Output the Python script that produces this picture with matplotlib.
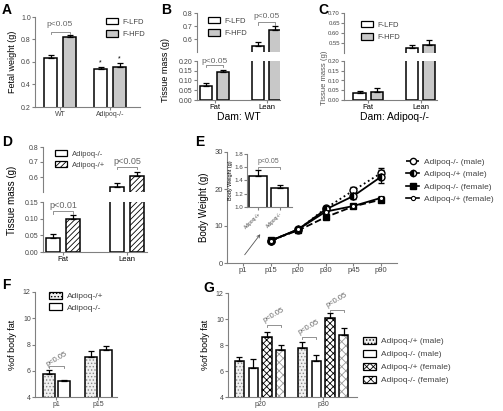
import matplotlib.pyplot as plt
import numpy as np
from matplotlib.patches import Patch, FancyArrowPatch
from matplotlib.lines import Line2D

plt.rcParams['font.family'] = ['Liberation Sans', 'DejaVu Sans']
plt.rcParams['hatch.linewidth'] = 0.6

# ---- data ----
# A: fetal weight (g)
a_groups = ['WT', 'Adipoq-/-']
a_lfd = [0.632, 0.538]
a_lfd_err = [0.028, 0.02]
a_hfd = [0.818, 0.559]
a_hfd_err = [0.025, 0.03]

# B: tissue mass, dam WT
tissue_groups = ['Fat', 'Lean']
b_lfd = [0.071, 0.549]
b_lfd_err = [0.014, 0.03]
b_hfd = [0.142, 0.672]
b_hfd_err = [0.013, 0.025]

# C: tissue mass, dam Adipoq-/-
c_lfd = [0.037, 0.524]
c_lfd_err = [0.01, 0.017]
c_hfd = [0.041, 0.541]
c_hfd_err = [0.018, 0.023]

# D: tissue mass by genotype
d_ko = [0.043, 0.535]
d_ko_err = [0.01, 0.023]
d_het = [0.099, 0.607]
d_het_err = [0.011, 0.028]

# E: body weight curves
e_days = ['p1', 'p15', 'p20', 'p30', 'p45', 'p90']
e_ko_m = [np.nan, 5.9, 9.0, 14.8, 19.6, 24.3]
e_ko_m_err = [0, 0.3, 0.4, 0.6, 1.0, 1.3]
e_het_m = [np.nan, 6.0, 9.1, 14.5, 18.1, 23.3]
e_het_m_err = [0, 0.3, 0.4, 0.7, 0.8, 1.7]
e_ko_f = [np.nan, 6.2, 8.8, 12.4, 15.3, 17.1]
e_ko_f_err = [0, 0.3, 0.3, 0.5, 0.5, 0.5]
e_het_f = [np.nan, 6.0, 9.1, 13.9, 15.4, 17.6]
e_het_f_err = [0, 0.3, 0.3, 0.5, 0.5, 0.5]
e_inset_groups = ['Adipoq-/+', 'Adipoq-/-']
e_inset = [1.47, 1.29]
e_inset_err = [0.09, 0.04]

# F: % body fat, p1 / p15
f_days = ['p1', 'p15']
f_het = [5.78, 7.05]
f_het_err = [0.25, 0.45]
f_ko = [5.22, 7.55]
f_ko_err = [0.06, 0.3]

# G: % body fat by sex, p20 / p30
g_days = ['p20', 'p30']
g_het_m = [6.74, 7.79]
g_het_m_err = [0.35, 0.44]
g_ko_m = [6.23, 6.8]
g_ko_m_err = [0.7, 0.4]
g_het_f = [8.59, 10.08]
g_het_f_err = [0.38, 0.38]
g_ko_f = [7.62, 8.8]
g_ko_f_err = [0.35, 0.5]

W, H = 503, 411
fig = plt.figure(figsize=(W / 100, H / 100), dpi=100)
GRAY = '#808080'
TXT = '#444444'


def px_axes(l, t, r, b):
    return fig.add_axes([l / W, 1 - b / H, (r - l) / W, (b - t) / H])


def fx(x):
    return x / W


def fy(y):
    return 1 - y / H


def style(ax, bottom=True, size=5):
    for s in ['top', 'right']:
        ax.spines[s].set_visible(False)
    ax.spines['left'].set_color(GRAY)
    ax.spines['bottom'].set_color(GRAY)
    ax.spines['bottom'].set_visible(bottom)
    ax.tick_params(length=2, width=0.8, color=GRAY, labelsize=size, labelcolor=TXT, pad=1)
    ax.patch.set_alpha(0)
    if not bottom:
        ax.set_xticks([])


def bars(ax, x, vals, errs, width, hatch='', face='white', hcol='black'):
    if hatch:
        ax.bar(x, vals, width, color=face, edgecolor=hcol, hatch=hatch, lw=0)
        ax.bar(x, vals, width, color='none', edgecolor='black', lw=1.1)
    else:
        ax.bar(x, vals, width, color=face, edgecolor='black', lw=1.1)
    ax.errorbar(x, vals, yerr=[np.zeros(len(errs)), errs], fmt='none', ecolor='black',
                elinewidth=0.9, capsize=2.2, capthick=0.9)


def bracket(ax, x0, x1, y, h, text, ty, rot=0, tx=None, fs=5.5):
    ax.plot([x0, x0, x1, x1], [y - h, y, y, y - h], color=GRAY, lw=0.6, clip_on=False)
    ax.text((x0 + x1) / 2 if tx is None else tx, ty, text, ha='center', va='center',
            fontsize=fs, color='#666666', rotation=rot, clip_on=False)


def legend(handles, labels, x, y, fs=5.5, spacing=0.6):
    fig.legend(handles, labels, loc='upper left', bbox_to_anchor=(fx(x), fy(y)),
               frameon=False, fontsize=fs, borderpad=0, borderaxespad=0,
               handlelength=1.6, handleheight=0.9, handletextpad=0.6,
               labelspacing=spacing, labelcolor=TXT)


def patch(hatch='', face='white', hcol='black'):
    return Patch(facecolor=face, edgecolor='black', hatch=hatch, lw=0.9)


def letter(s, x, y):
    fig.text(fx(x), fy(y), s, fontsize=10, fontweight='bold', ha='left', va='top')


# ---- A ----
ax = px_axes(35, 17, 140, 107)
x = np.arange(len(a_groups))
bars(ax, x - 0.19, a_lfd, a_lfd_err, 0.26)
bars(ax, x + 0.19, a_hfd, a_hfd_err, 0.26, face='#c8c8c8')
ax.set_xlim(-0.5, 1.6)
ax.set_ylim(0.2, 1.0)
ax.set_yticks([0.2, 0.4, 0.6, 0.8, 1.0])
ax.set_xticks(x)
ax.set_xticklabels(a_groups, fontsize=5.5, color='black')
style(ax)
ax.set_ylabel('Fetal weight (g)', fontsize=6.5, labelpad=3)
bracket(ax, -0.19, 0.19, 0.87, 0.02, 'p<0.05', 0.93, fs=6)
for xi, v, e in zip([1 - 0.19, 1 + 0.19], [a_lfd[1], a_hfd[1]], [a_lfd_err[1], a_hfd_err[1]]):
    ax.text(xi, v + e + 0.005, '*', ha='center', va='bottom', fontsize=5)
legend([patch(), patch(face='#c8c8c8')], ['F-LFD', 'F-HFD'], 106, 18)
letter('A', 2, 3)


# ---- B, C, D broken axes ----
def tissue(l, r, ut, ub, lt, lb, ulim, llim, uticks, lticks, ufmt, lfmt, xlim,
           v1, e1, v2, e2, st1, st2, off, wid, size=5):
    axu = px_axes(l, ut, r, ub)
    axl = px_axes(l, lt, r, lb)
    xx = np.arange(2)
    for a in (axu, axl):
        bars(a, xx - off, v1, e1, wid, **st1)
        bars(a, xx + off, v2, e2, wid, **st2)
        a.set_xlim(*xlim)
    axu.set_ylim(*ulim)
    axl.set_ylim(*llim)
    axu.set_yticks(uticks)
    axu.set_yticklabels([ufmt % t for t in uticks])
    axl.set_yticks(lticks)
    axl.set_yticklabels([lfmt % t for t in lticks])
    axl.set_xticks(xx)
    style(axu, bottom=False, size=size)
    style(axl, size=size)
    axl.set_xticklabels(tissue_groups, fontsize=5.5, color='black')
    return axu, axl


axu, axl = tissue(197, 280, 13, 52, 61, 100, (0.5, 0.8), (0, 0.2),
                  [0.6, 0.7, 0.8], [0, 0.05, 0.1, 0.15, 0.2], '%.1f', '%.2f',
                  (-0.34, 1.26), b_lfd, b_lfd_err, b_hfd, b_hfd_err,
                  {}, {'face': '#c8c8c8'}, 0.165, 0.23)
bracket(axl, -0.165, 0.165, 0.178, 0.008, 'p<0.05', 0.195, fs=6)
bracket(axu, 1 - 0.165, 1 + 0.165, 0.728, 0.02, 'p<0.05', 0.775, fs=6)
fig.text(fx(166), fy(70), 'Tissue mass (g)', rotation=90, fontsize=6.5, ha='center', va='center')
fig.text(fx(239), fy(117), 'Dam: WT', fontsize=7.5, ha='center', va='center')
legend([patch(), patch(face='#c8c8c8')], ['F-LFD', 'F-HFD'], 208, 17)
letter('B', 161, 3)

axu, axl = tissue(344, 437, 13, 53, 61, 100, (0.5, 0.7), (0, 0.2),
                  [0.55, 0.6, 0.65, 0.7], [0, 0.05, 0.1, 0.15, 0.2], '%.2f', '%.2f',
                  (-0.46, 1.31), c_lfd, c_lfd_err, c_hfd, c_hfd_err,
                  {}, {'face': '#c8c8c8'}, 0.165, 0.23, size=4.3)
fig.text(fx(324), fy(78), 'Tissue mass (g)', rotation=90, fontsize=5.5, ha='center', va='center',
         color='#555555')
fig.text(fx(395), fy(117), 'Dam: Adipoq-/-', fontsize=7.5, ha='center', va='center')
legend([patch(), patch(face='#c8c8c8')], ['F-LFD', 'F-HFD'], 361, 21)
letter('C', 318, 3)

axu, axl = tissue(43, 147, 147, 192, 202, 252, (0.5, 0.8), (0, 0.15),
                  [0.6, 0.7, 0.8], [0, 0.05, 0.1, 0.15], '%.1f', '%.2f',
                  (-0.31, 1.31), d_ko, d_ko_err, d_het, d_het_err,
                  {}, {'hatch': '//////'}, 0.16, 0.22)
bracket(axl, -0.16, 0.16, 0.122, 0.008, 'p<0.01', 0.141, fs=6.5)
bracket(axu, 1 - 0.16, 1 + 0.16, 0.669, 0.015, 'p<0.05', 0.705, fs=6.5)
fig.text(fx(12), fy(200), 'Tissue mass (g)', rotation=90, fontsize=7, ha='center', va='center')
legend([patch(), patch(hatch='//////')], ['Adipoq-/-', 'Adipoq-/+'], 55, 150, fs=5.5, spacing=0.4)
letter('D', 2, 135)

# ---- E ----
ax = px_axes(227, 152, 397, 263)
xe = np.arange(len(e_days))
ax.errorbar(xe, e_ko_m, yerr=e_ko_m_err, color='black', ls=':', lw=1.3, marker='o', ms=5,
            mfc='white', mec='black', mew=1, capsize=2, elinewidth=0.8)
ax.errorbar(xe, e_het_m, yerr=e_het_m_err, color='black', ls='-', lw=1.3, marker='o', ms=5,
            fillstyle='left', mfc='black', mfcalt='white', mec='black', mew=1, capsize=2, elinewidth=0.8)
ax.errorbar(xe, e_ko_f, yerr=e_ko_f_err, color='black', ls='--', lw=1.3, marker='s', ms=5,
            mfc='black', mec='black', capsize=2, elinewidth=0.8)
ax.errorbar(xe, e_het_f, yerr=e_het_f_err, color='black', ls='-', lw=1.3, marker='o', ms=3,
            mfc='white', mec='black', mew=0.8, capsize=2, elinewidth=0.8)
ax.set_xlim(-0.58, 5.58)
ax.set_ylim(0, 30)
ax.set_yticks([0, 10, 20, 30])
ax.set_xticks(xe)
ax.set_xticklabels(e_days, fontsize=5.5)
style(ax)
ax.tick_params(labelsize=5.5)
ax.set_ylabel('Body Weight (g)', fontsize=7, labelpad=4)
letter('E', 195, 135)
handles = [
    Line2D([], [], color='black', ls='--', lw=1.2, marker='o', ms=4.5, mfc='white', mew=1),
    Line2D([], [], color='black', ls='-', lw=1.2, marker='o', ms=4.5, fillstyle='left',
           mfc='black', mfcalt='white', mew=1),
    Line2D([], [], color='black', ls='-', lw=1.2, marker='s', ms=4.5, mfc='black'),
    Line2D([], [], color='black', ls='-', lw=1.2, marker='o', ms=3, mfc='white', mew=0.8),
]
fig.legend(handles, ['Adipoq-/- (male)', 'Adipoq-/+ (male)', 'Adipoq-/- (female)', 'Adipoq-/+ (female)'],
           loc='upper left', bbox_to_anchor=(fx(406), fy(158)), frameon=False, fontsize=6,
           borderpad=0, borderaxespad=0, handlelength=1.6, handletextpad=0.6,
           labelspacing=0.55, labelcolor=TXT)

axi = px_axes(247, 154, 292, 207)
xi = np.arange(len(e_inset_groups))
bars(axi, xi, e_inset, e_inset_err, 0.8)
axi.set_xlim(-0.51, 1.58)
axi.set_ylim(1.0, 1.8)
axi.set_yticks([1.0, 1.2, 1.4, 1.6, 1.8])
axi.set_xticks(xi)
style(axi)
axi.tick_params(labelsize=4.5)
axi.set_xticklabels(e_inset_groups, rotation=45, ha='right', fontsize=3.5, rotation_mode='anchor')
axi.set_ylabel('Body Weight (g)', fontsize=4, labelpad=1)
bracket(axi, 0, 1, 1.6, 0.03, 'p<0.05', 1.68, fs=5)
fig.add_artist(FancyArrowPatch((fx(243), fy(257)), (fx(262), fy(232)), transform=fig.transFigure,
                               arrowstyle='->', mutation_scale=5, color='#555555', lw=0.6))

# ---- F ----
ax = px_axes(35, 292, 117, 397)
xf = np.arange(len(f_days))
bars(ax, xf - 0.18, f_het, f_het_err, 0.29, hatch='.....', hcol='#888888', face='#f0f0f0')
bars(ax, xf + 0.18, f_ko, f_ko_err, 0.29)
ax.set_xlim(-0.51, 1.44)
ax.set_ylim(4, 12)
ax.set_yticks([4, 6, 8, 10, 12])
ax.set_xticks(xf)
ax.set_xticklabels(f_days, fontsize=5.5)
style(ax)
ax.set_ylabel('%of body fat', fontsize=6.5, labelpad=4)
bracket(ax, -0.18, 0.18, 6.35, 0.15, 'p<0.05', 6.9, rot=30)
legend([patch(hatch='.....', hcol='#888888', face='#f0f0f0'), patch()], ['Adipoq-/+', 'Adipoq-/-'],
       49, 292, fs=6, spacing=0.35)
letter('F', 2, 278)

# ---- G ----
ax = px_axes(228, 293, 357, 397)
xg = np.arange(len(g_days))
gs = [dict(hatch='.....', hcol='#888888', face='#f0f0f0'), {},
      dict(hatch='xxxxx', hcol='black'), dict(hatch='xxxx', hcol='#999999')]
gv = [g_het_m, g_ko_m, g_het_f, g_ko_f]
ge = [g_het_m_err, g_ko_m_err, g_het_f_err, g_ko_f_err]
offs = [-0.33, -0.11, 0.11, 0.33]
for o, v, e, s in zip(offs, gv, ge, gs):
    bars(ax, xg + o, v, e, 0.145, **s)
ax.set_xlim(-0.51, 1.54)
ax.set_ylim(4, 12)
ax.set_yticks([4, 6, 8, 10, 12])
ax.set_xticks(xg)
ax.set_xticklabels(g_days, fontsize=5.5)
style(ax)
ax.set_ylabel('%of body fat', fontsize=6.5, labelpad=4)
bracket(ax, 0.11, 0.33, 9.55, 0.15, 'p<0.05', 10.3, rot=30)
bracket(ax, 1 - 0.33, 1 - 0.11, 8.6, 0.15, 'p<0.05', 9.35, rot=30)
bracket(ax, 1 + 0.11, 1 + 0.33, 10.7, 0.15, 'p<0.05', 11.45, rot=30)
legend([patch(**s) for s in gs],
       ['Adipoq-/+ (male)', 'Adipoq-/- (male)', 'Adipoq-/+ (female)', 'Adipoq-/- (female)'],
       363, 337, fs=6, spacing=0.55)
letter('G', 203, 281)

fig.savefig('out.png', dpi=100)
